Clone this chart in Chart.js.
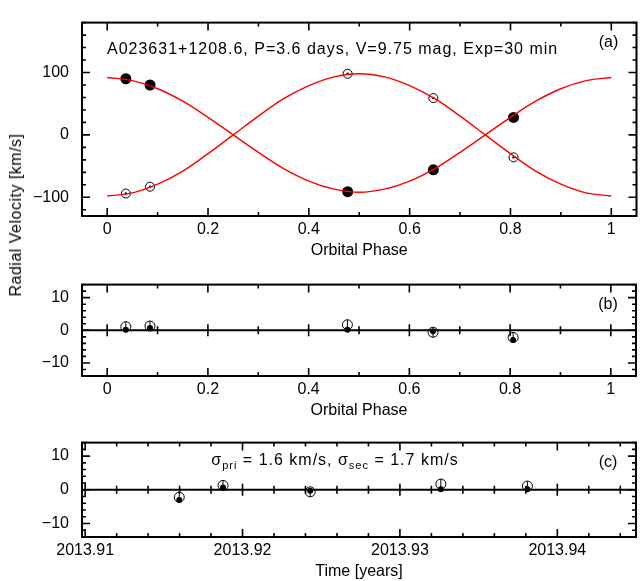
<!DOCTYPE html>
<html>
<head>
<meta charset="utf-8">
<script src="https://cdn.jsdelivr.net/npm/chart.js@4/dist/chart.umd.min.js"></script>
<style>
  html, body { margin: 0; padding: 0; background: #fff; }
  #wrap { position: relative; width: 642px; height: 581px; overflow: hidden; background: #fff; }
  #wrap canvas { position: absolute; left: 0; }
  #ylab {
    position: absolute; left: 16px; top: 215px;
    transform: translate(-50%, -50%) rotate(-90deg);
    font: 16px "Liberation Sans", Arial, sans-serif; letter-spacing: 0.5px;
    white-space: nowrap; color: #000;
  }
</style>
</head>
<body>
<div id="wrap">
  <canvas id="panelA" width="642" height="260" style="top:0px"></canvas>
  <canvas id="panelB" width="642" height="158" style="top:262px"></canvas>
  <canvas id="panelC" width="642" height="161" style="top:420px"></canvas>
  <div id="ylab">Radial Velocity [km/s]</div>
</div>
<script>
// ---- Observations (orbital phase, radial velocities in km/s) ----
const phaseObs    = [0.037, 0.085, 0.477, 0.647, 0.806];
const rvPrimary   = [90, 80, -91, -56, 28];
const rvSecondary = [-94, -83, 98, 59, -36];

// ---- Orbit solution curves, sampled in phase ----
const phaseModel     = [0, 0.05, 0.1, 0.15, 0.2, 0.25, 0.3, 0.35, 0.4, 0.45, 0.5,
                        0.55, 0.6, 0.65, 0.7, 0.75, 0.8, 0.85, 0.9, 0.95, 1];
const modelPrimary   = [92, 87, 74, 54, 28, 0, -28, -54, -74, -87, -92,
                        -87, -74, -54, -28, 0, 28, 54, 74, 87, 92];
const modelSecondary = [-98, -93, -79, -58, -30, 0, 30, 58, 79, 93, 98,
                        93, 79, 58, 30, 0, -30, -58, -79, -93, -98];

// ---- Residuals (O - C, km/s) and epochs of the same spectra ----
const residPrimary   = [0.2, 0.7, 0.2, -0.3, -3.0];
const residSecondary = [1.1, 1.3, 1.7, -0.6, -2.2];
const epochObs       = [2013.9381, 2013.91876, 2013.9326, 2013.9243, 2013.91598];

// ---- Tick labels ----
const phaseTicks = [0, 0.2, 0.4, 0.6, 0.8, 1];
const rvTicks    = [-100, 0, 100];
const residTicks = [-10, 0, 10];
const yearTicks  = [2013.91, 2013.92, 2013.93, 2013.94];

const titleText = 'A023631+1208.6, P=3.6 days, V=9.75 mag, Exp=30 min';

const FONT = '"Liberation Sans", Arial, sans-serif';
const pts = (xs, ys) => xs.map((v, i) => ({ x: v, y: ys[i] }));
const minus = s => s.replace('-', '\u2212');

// Steps through a scale range at the minor interval, flagging major positions.
function eachStep(min, max, minor, major, fn) {
  const ratio = Math.round(major / minor);
  const k0 = Math.ceil(min / minor - 1e-6), k1 = Math.floor(max / minor + 1e-6);
  for (let k = k0; k <= k1; k++) fn(k * minor, ((k % ratio) + ratio) % ratio === 0);
}

// Frame with inward ticks on all four sides, optional zero line and text.
const panelDecor = {
  id: 'panelDecor',
  beforeDatasetsDraw(chart, args, o) {
    const { ctx, chartArea: a, scales: { x, y } } = chart;
    ctx.save();
    ctx.strokeStyle = '#000';
    const y0 = y.getPixelForValue(0);
    if (o.zeroLine) {
      ctx.lineWidth = 2;
      ctx.beginPath(); ctx.moveTo(a.left, y0); ctx.lineTo(a.right, y0); ctx.stroke();
    }
    ctx.lineWidth = 1.6;
    ctx.beginPath();
    eachStep(x.min, x.max, o.xMinor, o.xMajor, (v, major) => {
      const p = x.getPixelForValue(v), len = major ? 8 : 4;
      ctx.moveTo(p, a.bottom); ctx.lineTo(p, a.bottom - len);
      ctx.moveTo(p, a.top); ctx.lineTo(p, a.top + len);
      if (o.zeroLine) { const z = major ? 6 : 4; ctx.moveTo(p, y0 - z); ctx.lineTo(p, y0 + z); }
    });
    eachStep(y.min, y.max, o.yMinor, o.yMajor, (v, major) => {
      const p = y.getPixelForValue(v), len = major ? 8 : 4;
      ctx.moveTo(a.left, p); ctx.lineTo(a.left + len, p);
      ctx.moveTo(a.right, p); ctx.lineTo(a.right - len, p);
    });
    ctx.stroke();
    ctx.lineWidth = 2;
    ctx.strokeRect(a.left, a.top, a.right - a.left, a.bottom - a.top);
    ctx.restore();
  },
  afterDatasetsDraw(chart, args, o) {
    if (!o.links) return;
    // thin stroke joining each primary residual to the ring of the same spectrum
    const { ctx } = chart;
    const rings = chart.getDatasetMeta(0).data, dots = chart.getDatasetMeta(1).data;
    ctx.save();
    ctx.strokeStyle = '#000';
    ctx.lineWidth = 1;
    ctx.beginPath();
    dots.forEach((d, i) => {
      const r = rings[i], rad = r.options.radius;
      const dir = r.y <= d.y ? -1 : 1;
      ctx.moveTo(d.x, d.y);
      ctx.lineTo(r.x, r.y + dir * rad);
    });
    ctx.stroke();
    ctx.restore();
  },
  afterDraw(chart, args, o) {
    const { ctx, chartArea: a } = chart;
    ctx.save();
    ctx.fillStyle = '#000';
    ctx.textBaseline = 'middle';
    ctx.font = '16px ' + FONT;
    ctx.textAlign = 'center';
    ctx.fillText(o.tag, a.right - 28, a.top + 20);
    if (o.pieces) {
      ctx.letterSpacing = '1px';
      let w = 0;
      const fontOf = p => (p.sub ? '11px ' : '16px ') + FONT;
      o.pieces.forEach(p => { ctx.font = fontOf(p); w += ctx.measureText(p.t).width; });
      let cx = o.align === 'left' ? a.left + o.dx : o.cx - w / 2;
      ctx.textAlign = 'left';
      o.pieces.forEach(p => {
        ctx.font = fontOf(p);
        ctx.fillText(p.t, cx, a.top + o.dy + (p.sub ? 5 : 0));
        cx += ctx.measureText(p.t).width;
      });
    }
    ctx.restore();
  }
};

function makePanel(id, c) {
  return new Chart(document.getElementById(id), {
    type: 'scatter',
    data: { datasets: c.datasets },
    plugins: [panelDecor],
    options: {
      responsive: false, animation: false, devicePixelRatio: 1,
      layout: { padding: { top: c.padTop, right: 1, left: 0, bottom: 0 } },
      plugins: { legend: { display: false }, tooltip: { enabled: false }, panelDecor: c.decor },
      scales: {
        x: {
          type: 'linear', position: 'bottom', min: c.xMin, max: c.xMax,
          grid: { display: false, drawTicks: false }, border: { display: false },
          afterBuildTicks: s => { s.ticks = c.xTicks.map(v => ({ value: v })); },
          afterFit: s => { s.height = c.axisH; },
          ticks: { color: '#000', font: { family: FONT, size: 16 }, padding: 4,
                   maxRotation: 0, autoSkip: false, callback: c.xFmt },
          title: { display: true, text: c.xTitle, color: '#000',
                   font: { family: FONT, size: 16 }, padding: { top: 0, bottom: 0 } }
        },
        y: {
          type: 'linear', position: 'left', min: c.yMin, max: c.yMax,
          grid: { display: false, drawTicks: false }, border: { display: false },
          afterBuildTicks: s => { s.ticks = c.yTicks.map(v => ({ value: v })); },
          afterFit: s => { s.width = 82; },
          ticks: { color: '#000', font: { family: FONT, size: 16 }, padding: 13,
                   autoSkip: false, callback: v => minus(String(v)) }
        }
      }
    }
  });
}

const phaseFmt = v => (v === 0 || v === 1) ? String(v) : v.toFixed(1);
const openRing = (data, r) => ({ data, showLine: false, pointRadius: r, pointHoverRadius: r,
  pointBackgroundColor: 'rgba(0,0,0,0)', pointBorderColor: '#000', pointBorderWidth: 1 });
const filledDot = (data, r) => ({ data, showLine: false, pointRadius: r, pointHoverRadius: r,
  pointBackgroundColor: '#000', pointBorderColor: '#000', pointBorderWidth: 0 });
const curve = data => ({ data, showLine: true, pointRadius: 0, borderColor: '#ff0000',
  borderWidth: 1.4, tension: 0.4, fill: false });

// (a) radial velocity curves
makePanel('panelA', {
  padTop: 8, axisH: 44,
  xMin: -0.05, xMax: 1.05, xTicks: phaseTicks, xFmt: phaseFmt, xTitle: 'Orbital Phase',
  yMin: -130, yMax: 180, yTicks: rvTicks,
  decor: { xMinor: 0.1, xMajor: 0.2, yMinor: 20, yMajor: 100, tag: '(a)',
           align: 'left', dx: 25, dy: 27, pieces: [{ t: titleText }] },
  datasets: [
    curve(pts(phaseModel, modelPrimary)),
    curve(pts(phaseModel, modelSecondary)),
    filledDot(pts(phaseObs, rvPrimary), 5.5),
    openRing(pts(phaseObs, rvSecondary), 4.5),
    filledDot(pts(phaseObs, rvSecondary), 1.2)
  ]
});

// (b) residuals against phase
makePanel('panelB', {
  padTop: 10, axisH: 44,
  xMin: -0.05, xMax: 1.05, xTicks: phaseTicks, xFmt: phaseFmt, xTitle: 'Orbital Phase',
  yMin: -14, yMax: 14, yTicks: residTicks,
  decor: { xMinor: 0.1, xMajor: 0.2, yMinor: 2, yMajor: 10, tag: '(b)', zeroLine: true, links: true },
  datasets: [
    openRing(pts(phaseObs, residSecondary), 5),
    filledDot(pts(phaseObs, residPrimary), 3)
  ]
});

// (c) residuals against time
makePanel('panelC', {
  padTop: 13, axisH: 44,
  xMin: 2013.9098, xMax: 2013.945, xTicks: yearTicks, xFmt: v => v.toFixed(2), xTitle: 'Time [years]',
  yMin: -14, yMax: 14, yTicks: residTicks,
  decor: { xMinor: 0.002, xMajor: 0.01, yMinor: 2, yMajor: 10, tag: '(c)', zeroLine: true, links: true,
           cx: 335, dy: 18,
           pieces: [{ t: '\u03c3' }, { t: 'pri', sub: true }, { t: ' = 1.6 km/s, \u03c3' },
                    { t: 'sec', sub: true }, { t: ' = 1.7 km/s' }] },
  datasets: [
    openRing(pts(epochObs, residSecondary), 5),
    filledDot(pts(epochObs, residPrimary), 3)
  ]
});
</script>
</body>
</html>
